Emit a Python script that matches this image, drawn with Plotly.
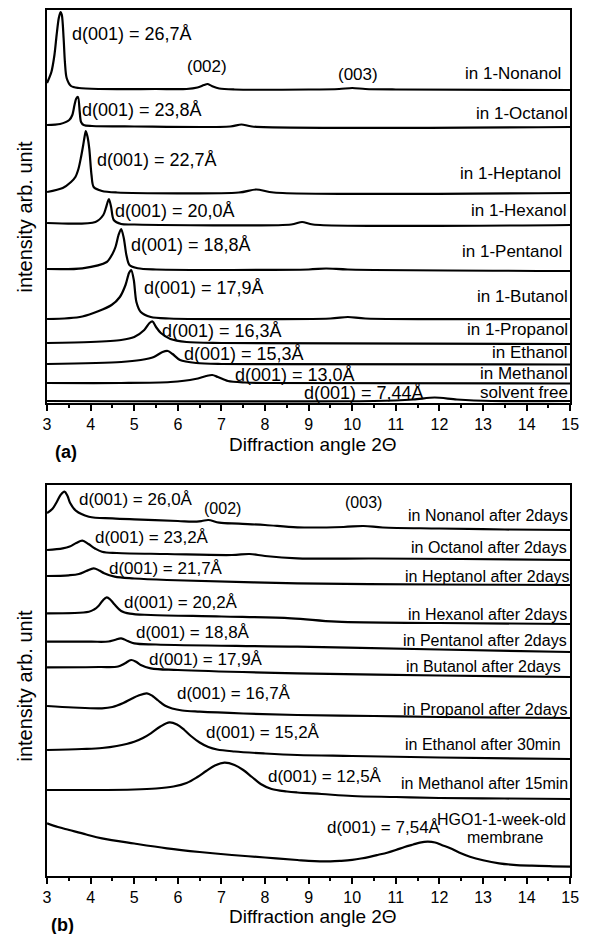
import plotly.graph_objects as go

W, H = 590, 934
FONT = "Liberation Sans, Arial, sans-serif"

# ---------------- panel (a): membrane swollen in alcohols ----------------
a_labels = ["in 1-Nonanol", "in 1-Octanol", "in 1-Heptanol", "in 1-Hexanol",
            "in 1-Pentanol", "in 1-Butanol", "in 1-Propanol", "in Ethanol",
            "in Methanol", "solvent free"]
a_d001 = [26.7, 23.8, 22.7, 20.0, 18.8, 17.9, 16.3, 15.3, 13.0, 7.44]

a_nonanol_2t = [3.00, 3.10, 3.17, 3.22, 3.27, 3.31, 3.34, 3.38, 3.41, 3.45, 3.55, 3.73, 4.2, 5.5,
                6.2, 6.45, 6.6, 6.68, 6.78, 6.95, 7.3, 9.0, 9.7, 10.0, 10.3, 11.0, 15.0]
a_nonanol_i = [320, 331, 348, 368, 385, 391, 388, 365, 341, 325, 317, 315, 314, 314,
               314, 315.5, 318, 319, 317, 314.5, 313.5, 313.5, 314, 315, 314, 313.5, 313]

a_octanol_2t = [3.00, 3.30, 3.51, 3.58, 3.63, 3.67, 3.71, 3.75, 3.78, 3.84, 4.03, 5.0, 7.2, 7.46, 7.7, 15.0]
a_octanol_i = [278, 279, 283, 288, 298, 304.5, 306, 291, 281, 278, 277, 276.5, 276.5, 278.5, 276.5, 276]

a_heptanol_2t = [3.00, 3.36, 3.55, 3.65, 3.72, 3.78, 3.83, 3.86, 3.89, 3.93, 3.97, 4.02, 4.07,
                 4.26, 4.6, 7.4, 7.8, 8.2, 15.0]
a_heptanol_i = [211, 215, 221, 226, 234, 246, 258, 266, 272, 266, 254, 228, 216,
                212, 210.5, 210.5, 213.5, 210.5, 210]

a_hexanol_2t = [3.00, 4.11, 4.29, 4.35, 4.39, 4.42, 4.47, 4.53, 4.70, 5.0, 8.6, 8.85, 9.1, 15.0]
a_hexanol_i = [180, 181, 188, 195, 201, 204, 196, 183, 179, 178.5, 178.5, 181, 178.5, 178]

a_pentanol_2t = [3.00, 3.81, 4.37, 4.50, 4.57, 4.64, 4.70, 4.76, 4.82, 4.89, 5.08, 5.5, 9.0, 9.4, 9.9, 15.0]
a_pentanol_i = [134, 134.7, 141, 149, 156, 168, 174, 165, 148, 138, 134.7, 133.5, 133.5, 134.5, 133.5, 132]

a_butanol_2t = [3.00, 3.81, 4.48, 4.67, 4.80, 4.88, 4.93, 4.99, 5.05, 5.15, 5.38, 5.8, 9.5, 9.9, 10.3, 15.0]
a_butanol_i = [84, 86.5, 98, 106, 118, 130, 133, 123, 101, 91, 86, 84.5, 84.5, 86, 84.5, 84]

a_propanol_2t = [3.00, 4.0, 4.70, 5.00, 5.23, 5.35, 5.42, 5.50, 5.61, 5.83, 6.2, 7.0, 15.0]
a_propanol_i = [60, 61, 63, 66, 73, 80, 81.5, 76, 70, 64, 61, 60, 59]

a_ethanol_2t = [3.00, 4.70, 5.15, 5.45, 5.65, 5.77, 5.88, 6.05, 6.42, 7.0, 15.0]
a_ethanol_i = [39, 41, 43, 46, 51, 52, 49, 43, 40, 39, 38.5]

a_methanol_2t = [3.00, 4.70, 5.83, 6.40, 6.65, 6.79, 6.92, 7.15, 7.54, 8.0, 15.0]
a_methanol_i = [20, 20, 21, 24, 27, 28, 26, 22, 20.5, 20, 19.5]

a_dry_2t = [3.00, 10.5, 11.4, 11.89, 12.4, 13.2, 15.0]
a_dry_i = [2, 2, 3.5, 5.5, 3.5, 2, 2]

# ---------------- panel (b): aged membrane after immersion ----------------
b_labels = ["in Nonanol after 2days", "in Octanol after 2days", "in Heptanol after 2days",
            "in Hexanol after 2days", "in Pentanol after 2days", "in Butanol after 2days",
            "in Propanol after 2days", "in Ethanol after 30min", "in Methanol after 15min"]
b_d001 = [26.0, 23.2, 21.7, 20.2, 18.8, 17.9, 16.7, 15.2, 12.5, 7.54]

b_nonanol_2t = [3.00, 3.12, 3.21, 3.31, 3.40, 3.47, 3.53, 3.66, 3.96, 4.5, 5.0, 6.0, 6.35, 6.55,
                6.70, 6.95, 7.4, 8.0, 8.74, 9.8, 10.26, 10.7, 12.0, 13.5, 15.0]
b_nonanol_i = [363, 367, 373, 381, 384.3, 380, 373, 365.3, 359.3, 357.7, 356.7, 355, 354.3, 355,
               356, 353.3, 352.3, 351, 348.7, 349, 350, 348.5, 347.5, 346.5, 346]

b_octanol_2t = [3.00, 3.36, 3.52, 3.67, 3.81, 3.95, 4.10, 4.26, 4.6, 5.75, 7.24, 7.65, 8.0,
                8.74, 10.5, 12.5, 15.0]
b_octanol_i = [326, 327.7, 329.5, 333, 335.3, 332, 327.5, 324.3, 323, 322, 321, 322, 320,
               317.7, 317.5, 317, 316]

b_heptanol_2t = [3.00, 3.50, 3.73, 3.90, 4.07, 4.20, 4.31, 4.55, 5.0, 5.75, 8.74, 12.0, 15.0]
b_heptanol_i = [300, 300.7, 302, 305, 307.7, 305.5, 302.7, 299.3, 297.5, 296, 292.7, 291.5, 291]

b_hexanol_2t = [3.00, 3.96, 4.08, 4.18, 4.28, 4.37, 4.46, 4.55, 4.70, 4.9, 5.38, 7.0, 8.6,
                9.64, 12.0, 15.0]
b_hexanol_i = [262.7, 264.3, 266.5, 270, 275.5, 278.7, 276, 271.5, 265, 262.3, 261, 259.5, 257.7,
               254.3, 253, 252]

b_pentanol_2t = [3.00, 4.0, 4.41, 4.55, 4.70, 4.85, 5.0, 5.5, 8.74, 12.0, 15.0]
b_pentanol_i = [234.3, 234.3, 234.5, 236, 237.7, 235, 232.7, 231.5, 229.3, 226.5, 224]

b_butanol_2t = [3.00, 4.2, 4.63, 4.78, 4.93, 5.05, 5.15, 5.38, 6.0, 8.74, 12.0, 15.0]
b_butanol_i = [208.7, 209, 209.5, 212.5, 216, 214, 211, 207.7, 206, 202.7, 200.5, 199]

b_propanol_2t = [3.00, 3.6, 4.26, 4.5, 4.75, 4.95, 5.10, 5.29, 5.42, 5.55, 5.70, 5.87, 6.1,
                 6.5, 7.5, 8.74, 10.5, 12.0, 15.0]
b_propanol_i = [170, 168.5, 167.7, 169, 173, 177.5, 180.5, 182.7, 180, 175.5, 170.5, 167.5, 165.5,
                164.3, 162.5, 161, 160, 159, 158]

b_ethanol_2t = [3.00, 3.8, 4.26, 4.6, 5.0, 5.2, 5.38, 5.6, 5.81, 5.98, 6.15, 6.3, 6.5, 6.7,
                6.9, 7.3, 8.0, 8.74, 10.0, 12.0, 15.0]
b_ethanol_i = [126, 127, 128, 130, 134.3, 138, 142.7, 149.5, 153.7, 151.5, 146, 140, 133.5, 129,
               126.5, 124.5, 122.5, 121, 120, 118.5, 117]

b_methanol_2t = [3.00, 4.0, 5.0, 5.5, 5.9, 6.2, 6.45, 6.65, 6.85, 7.07, 7.3, 7.5, 7.7, 7.9,
                 8.15, 8.5, 8.74, 9.3, 10.0, 11.0, 12.0, 13.5, 15.0]
b_methanol_i = [86, 86, 86.5, 87.5, 89.5, 93, 99, 105, 110.5, 113.3, 111, 106, 99, 92,
                87, 84.5, 83.5, 82, 80, 79, 78, 77.5, 77]

b_hgo_2t = [3.00, 3.25, 3.51, 3.9, 4.26, 5.0, 5.75, 6.5, 7.24, 8.0, 8.74, 9.0, 9.5, 9.75,
            10.0, 10.2, 10.4, 10.6, 10.8, 11.0, 11.2, 11.4, 11.55, 11.73, 11.9, 12.05,
            12.25, 12.45, 12.7, 13.0, 13.37, 13.7, 14.12, 14.6, 15.0]
b_hgo_i = [52.7, 49, 46, 41.5, 37.7, 32.5, 27.7, 24, 21, 18.5, 16, 15.2, 14.6, 15.2,
           16.2, 17.5, 19.2, 21.2, 23.3, 26, 29, 31.5, 33.3, 34.3, 33.5, 31,
           27.7, 23.5, 19.3, 15.8, 12.7, 11.2, 10.3, 9.7, 9.3]

x_ticks = list(range(3, 16))

curves_a = [(a_nonanol_2t, a_nonanol_i), (a_octanol_2t, a_octanol_i),
            (a_heptanol_2t, a_heptanol_i), (a_hexanol_2t, a_hexanol_i),
            (a_pentanol_2t, a_pentanol_i), (a_butanol_2t, a_butanol_i),
            (a_propanol_2t, a_propanol_i), (a_ethanol_2t, a_ethanol_i),
            (a_methanol_2t, a_methanol_i), (a_dry_2t, a_dry_i)]
curves_b = [(b_nonanol_2t, b_nonanol_i), (b_octanol_2t, b_octanol_i),
            (b_heptanol_2t, b_heptanol_i), (b_hexanol_2t, b_hexanol_i),
            (b_pentanol_2t, b_pentanol_i), (b_butanol_2t, b_butanol_i),
            (b_propanol_2t, b_propanol_i), (b_ethanol_2t, b_ethanol_i),
            (b_methanol_2t, b_methanol_i), (b_hgo_2t, b_hgo_i)]

fig = go.Figure()
for xs, ys in curves_a:
    fig.add_trace(go.Scatter(x=xs, y=ys, mode="lines",
                             line=dict(color="black", width=2.2, shape="spline", smoothing=0.8),
                             xaxis="x", yaxis="y", hoverinfo="skip", showlegend=False))
for xs, ys in curves_b:
    fig.add_trace(go.Scatter(x=xs, y=ys, mode="lines",
                             line=dict(color="black", width=2.2, shape="spline", smoothing=1.0),
                             xaxis="x2", yaxis="y2", hoverinfo="skip", showlegend=False))


def px(x):
    return x / W


def py(y):
    return 1 - y / H


annotations = []


def label(text, x, y, anchor="left", size=17, bold=False):
    annotations.append(dict(
        text=f"<b>{text}</b>" if bold else text, x=px(x), y=py(y),
        xref="paper", yref="paper", xanchor=anchor, yanchor="middle",
        showarrow=False, borderpad=0, font=dict(family=FONT, size=size, color="black")))


def dtext(d):
    return "d(001) = " + str(d).replace(".", ",") + "Å"


# panel (a) text
a_dpos = [(69, 34), (79, 110), (94, 160), (112, 211), (129, 245),
          (142, 288), (161, 331), (183, 354), (235, 375), (306, 393)]
a_rpos = [(571, 73), (578, 113), (571, 173), (576, 210), (572, 251),
          (578, 297), (578, 329), (578, 353), (578, 373), (578, 392)]
for d, (x, y) in zip(a_d001, a_dpos):
    label(dtext(d), x, y, "left", 18)
for t, (x, y) in zip(a_labels, a_rpos):
    label(t, x, y, "right", 17)
label("(002)", 208, 67, "center", 17)
label("(003)", 362, 74, "center", 17)
label("Diffraction angle 2Θ", 316, 444, "center", 19)
label("(a)", 63, 452, "center", 18, bold=True)

# panel (b) text
b_dpos = [(76, 499), (92, 537), (106, 568), (122, 602), (134, 632),
          (147, 659), (176, 693), (206, 732), (269, 776), (329, 827)]
b_rpos = [(578, 515), (577, 547), (580, 576), (577, 614), (577, 640),
          (571, 666), (578, 709), (571, 744), (578, 783)]
for d, (x, y) in zip(b_d001, b_dpos):
    label(dtext(d), x, y, "left", 17)
for t, (x, y) in zip(b_labels, b_rpos):
    label(t, x, y, "right", 16)
label("HGO1-1-week-old", 576, 819, "right", 16)
label("membrane", 513, 837, "center", 16)
label("(002)", 223, 508, "center", 16)
label("(003)", 368, 503, "center", 16)
label("Diffraction angle 2Θ", 316, 916, "center", 19)
label("(b)", 60, 925, "center", 18, bold=True)

# y-axis titles
for yc in (217, 686):
    annotations.append(dict(
        text="intensity arb. unit", x=px(21), y=py(yc), xref="paper", yref="paper",
        xanchor="center", yanchor="middle", textangle=-90, showarrow=False,
        font=dict(family=FONT, size=20, color="black")))

x_common = dict(
    range=[3, 15], tickmode="array", tickvals=x_ticks, ticktext=[str(t) for t in x_ticks],
    ticks="outside", ticklen=6, tickwidth=1.5, tickcolor="black",
    minor=dict(dtick=0.5, tick0=3, ticks="outside", ticklen=3, tickwidth=1.5, tickcolor="black"),
    showline=True, mirror=True, linecolor="black", linewidth=1.5,
    showgrid=False, zeroline=False, tickfont=dict(family=FONT, size=16, color="black"),
    domain=[px(44), px(579)], fixedrange=True,
)
y_common = dict(
    showticklabels=False, ticks="", showline=True, mirror=True, linecolor="black",
    linewidth=1.5, showgrid=False, zeroline=False, fixedrange=True,
)

fig.update_layout(
    width=W, height=H, autosize=False,
    margin=dict(l=0, r=0, t=0, b=0),
    paper_bgcolor="white", plot_bgcolor="white",
    font=dict(family=FONT, color="black"),
    xaxis=dict(**x_common, anchor="y"),
    yaxis=dict(**y_common, anchor="x", range=[0, 393], domain=[py(403), py(10)]),
    xaxis2=dict(**x_common, anchor="y2"),
    yaxis2=dict(**y_common, anchor="x2", range=[0, 391], domain=[py(876), py(485)]),
    annotations=annotations,
    showlegend=False,
)

fig.write_html("out.html", config=dict(displayModeBar=False))
